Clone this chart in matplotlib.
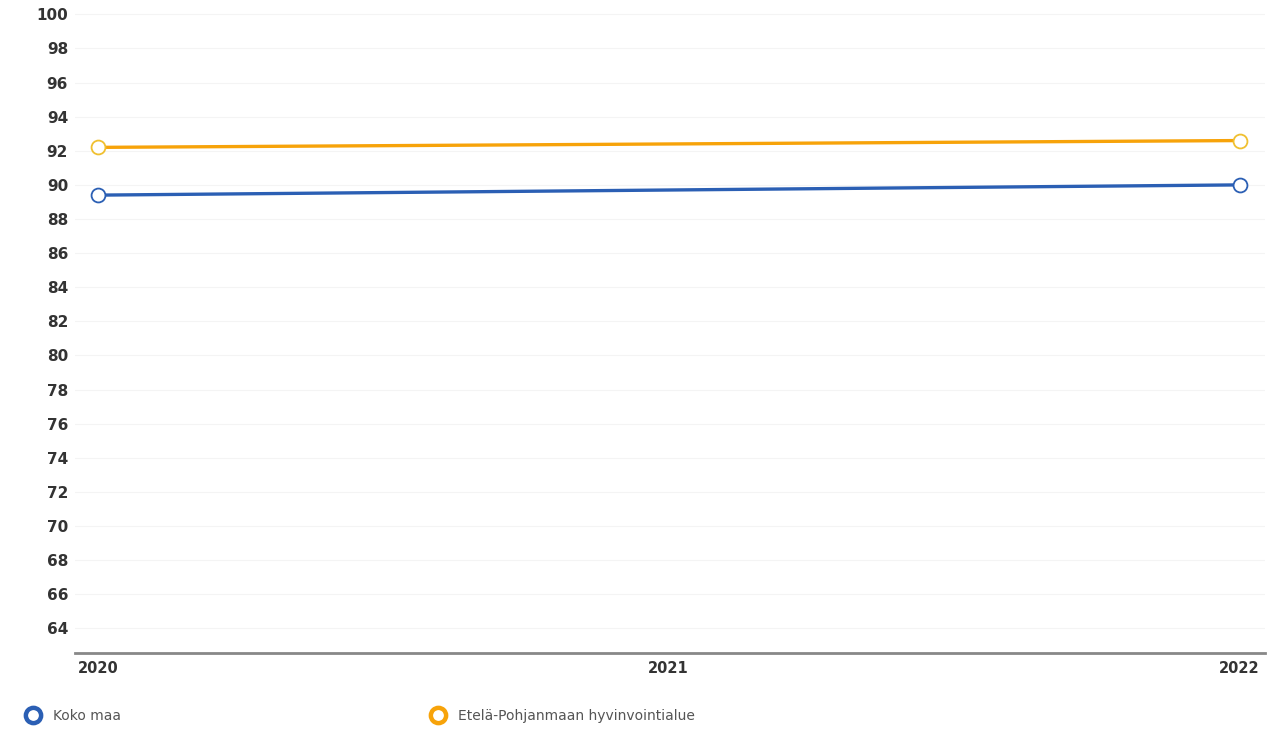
import matplotlib.pyplot as plt
from matplotlib.lines import Line2D

years = [2020, 2022]
koko_maa = [89.4, 90.0]
etela_pohjanmaa = [92.2, 92.6]
series_names = ["Koko maa", "Etelä-Pohjanmaan hyvinvointialue"]
x_ticks = [2020, 2021, 2022]
y_ticks = list(range(64, 101, 2))

BLUE = "#2b5fb4"
ORANGE = "#f7a30a"


def main():
    fig = plt.figure(figsize=(12.71, 7.32), dpi=100)
    ax = fig.add_axes([0.059, 0.108, 0.936, 0.884])

    for y in y_ticks:
        ax.axhline(y, color="#f4f4f4", linewidth=0.8, zorder=0)

    ax.plot(years, etela_pohjanmaa, color=ORANGE, linewidth=2.4, zorder=2,
            marker="o", markersize=10, markerfacecolor="white",
            markeredgecolor="#f0c030", markeredgewidth=1.3)
    ax.plot(years, koko_maa, color=BLUE, linewidth=2.4, zorder=3,
            marker="o", markersize=10, markerfacecolor="white",
            markeredgecolor=BLUE, markeredgewidth=1.3)

    ax.set_xlim(2019.96, 2022.044)
    ax.set_ylim(62.55, 100.5)
    ax.set_xticks(x_ticks)
    ax.set_xticklabels([str(t) for t in x_ticks], fontsize=10.5,
                       fontweight="bold", color="#333333")
    ax.set_yticks(y_ticks)
    ax.set_yticklabels([str(t) for t in y_ticks], fontsize=11,
                       fontweight="bold", color="#333333")
    ax.tick_params(axis="both", length=0)
    ax.tick_params(axis="x", pad=6)
    ax.tick_params(axis="y", pad=5)

    for side in ["top", "right", "left"]:
        ax.spines[side].set_visible(False)
    ax.spines["bottom"].set_color("#888888")
    ax.spines["bottom"].set_linewidth(2)

    # custom legend under the axis
    handles = [
        Line2D([], [], linestyle="none", marker="o", markersize=11,
               markerfacecolor="white", markeredgecolor=BLUE, markeredgewidth=3.2),
        Line2D([], [], linestyle="none", marker="o", markersize=11,
               markerfacecolor="white", markeredgecolor=ORANGE, markeredgewidth=3.2),
    ]
    x_pos = [0.0175, 0.336]
    for h, name, xp in zip(handles, series_names, x_pos):
        leg = fig.legend([h], [name], loc="center left", bbox_to_anchor=(xp, 0.022),
                         frameon=False, fontsize=10, handlelength=0.8,
                         handletextpad=1.0, borderaxespad=0)
        for t in leg.get_texts():
            t.set_color("#555555")

    fig.savefig("out.png", dpi=100)


if __name__ == "__main__":
    main()
